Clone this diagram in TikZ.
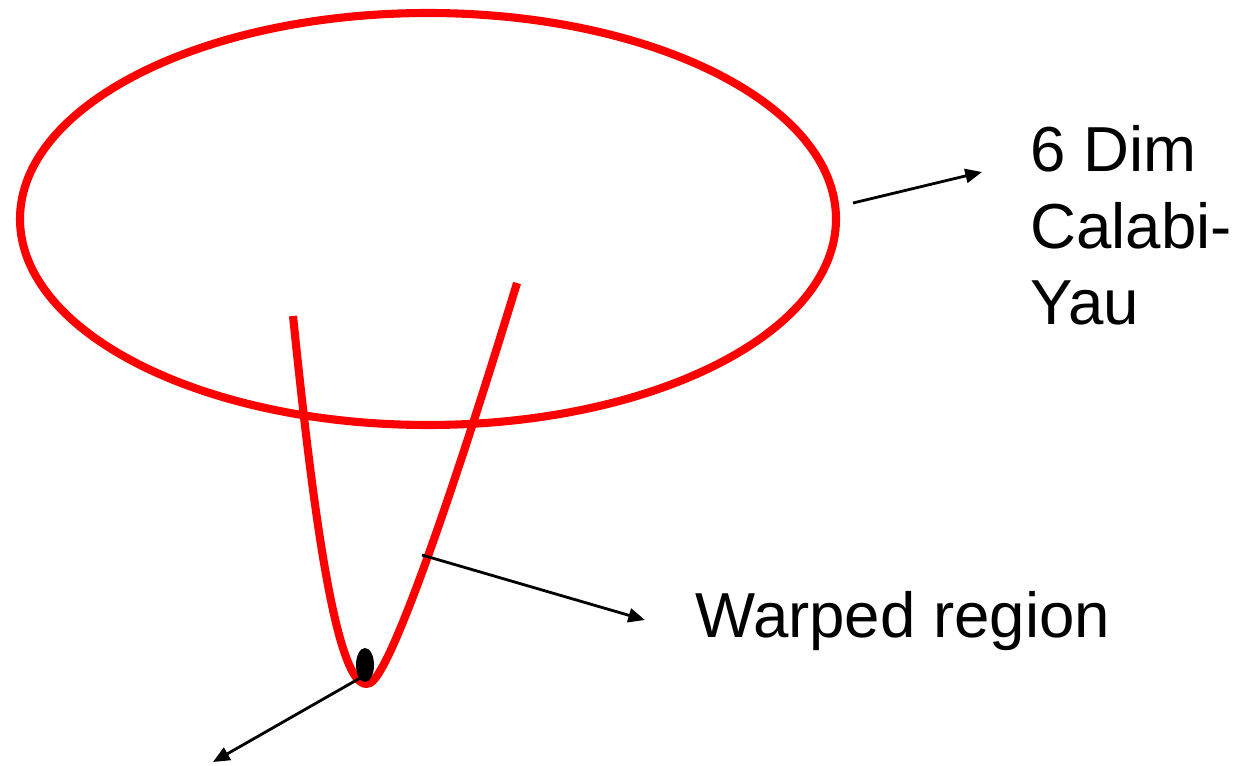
\documentclass[tikz,border=0pt]{standalone}
\usepackage{fontspec}
\setmainfont{Liberation Sans}
\usetikzlibrary{positioning, arrows.meta, shapes.geometric}

\begin{document}
\begin{tikzpicture}[
    x=0.02cm, y=-0.02cm,
    redline/.style={draw=red, line width=4.6pt},
    arr/.style={-{Triangle[length=9.5pt, width=8pt]}, line width=1.6pt},
    lbl/.style={font=\fontsize{36.2}{43.6}\selectfont, align=left, inner sep=0pt}
]
    \useasboundingbox (0,0) rectangle (1239,766);

    % the Calabi-Yau and the throat
    \node[redline, ellipse, minimum width=816*0.02cm, minimum height=412*0.02cm, inner sep=0pt] (cy) at (428,219) {};
    \draw[redline] (293,316) .. controls (310,480) and (335,700) .. (370,683)
        .. controls (392,673) and (460,470) .. (517,283);
    \node[fill=black, ellipse, minimum width=18*0.02cm, minimum height=34*0.02cm, inner sep=0pt] (tip) at (365,665) {};

    % labels
    \node[lbl, anchor=base west] (cylbl) at (1030,325) {6 Dim\\Calabi-\\Yau};
    \node[lbl, anchor=base west] (warp) at (695,637) {Warped region};

    % arrows
    \coordinate (cyend) at (853,203);
    \coordinate (cyhead) at (982,172);
    \coordinate (wstart) at (422,555);
    \coordinate (whead) at (645,620);
    \coordinate (tiphead) at (213,762);
    \draw[arr] (cyend) -- (cyhead);
    \draw[arr] (wstart) -- (whead);
    \draw[arr] (tip.south west) ++(3,0) -- (tiphead);
\end{tikzpicture}
\end{document}
